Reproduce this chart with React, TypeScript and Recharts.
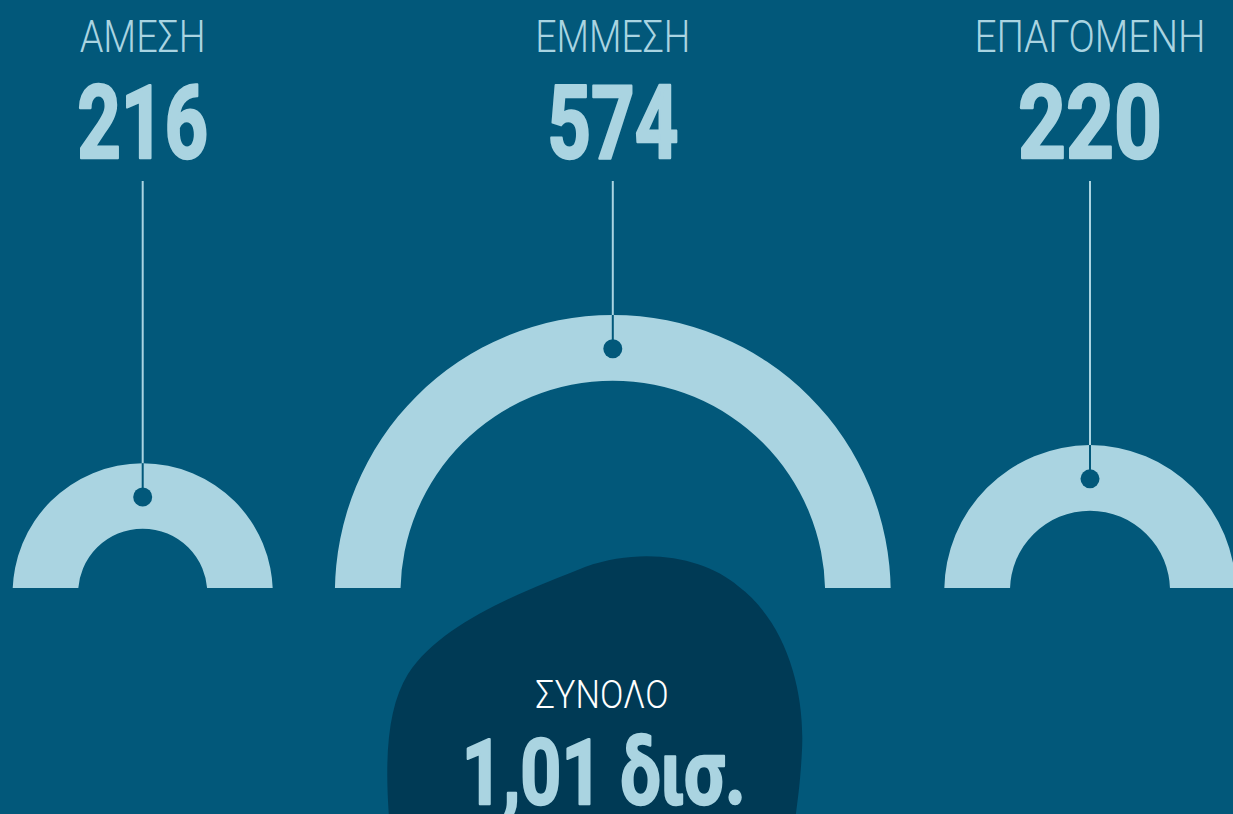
import React from "react";
import { PieChart, Pie } from "recharts";

// ---- data ----
const categories = ["ΑΜΕΣΗ", "ΕΜΜΕΣΗ", "ΕΠΑΓΟΜΕΝΗ"];
const values = [216, 574, 220];
const totalTitle = "ΣΥΝΟΛΟ";
const totalUnit = "δισ.";

// ---- styles / layout ----
const BG = "#02587A";
const LIGHT = "#AAD4E1";
const BLOB = "#003A55";
const W = 1233;
const H = 814;
const CUT = 588;

const rings = [
  { cx: 142.7, cy: 593.3, rIn: 64.6, rOut: 130.1, labelW: 126, valueW: 131 },
  { cx: 612.8, cy: 592.9, rIn: 212.3, rOut: 277.9, labelW: 155, valueW: 131 },
  { cx: 1090, cy: 590.7, rIn: 80, rOut: 145.7, labelW: 231, valueW: 144 },
];

const FONT = "Roboto, 'DejaVu Sans Condensed', sans-serif";

const makeLabel = (i: number) => (props: any) => {
  const { cx, cy, innerRadius, outerRadius, name, value } = props;
  const g = rings[i];
  const top = cy - outerRadius;
  const dotY = cy - (innerRadius + outerRadius) / 2 + 1;
  return (
    <g key={`lab-${i}`}>
      <text
        x={cx}
        y={52}
        textAnchor="middle"
        fontFamily={FONT}
        fontWeight={300}
        fontSize={45}
        fill={LIGHT}
        textLength={g.labelW}
        lengthAdjust="spacingAndGlyphs"
      >
        {name}
      </text>
      <text
        x={cx}
        y={158}
        textAnchor="middle"
        fontFamily={FONT}
        fontWeight={700}
        fontSize={102}
        fill={LIGHT}
        stroke={LIGHT}
        strokeWidth={2.6}
        strokeLinejoin="round"
        textLength={g.valueW}
        lengthAdjust="spacingAndGlyphs"
      >
        {value}
      </text>
      <line x1={cx} x2={cx} y1={181} y2={top} stroke={LIGHT} strokeWidth={2} />
      <line x1={cx} x2={cx} y1={top} y2={dotY} stroke={BG} strokeWidth={2} />
      <circle cx={cx} cy={dotY} r={9.5} fill={BG} />
    </g>
  );
};

export default function App() {
  const total = values.reduce((a, b) => a + b, 0);
  const totalText = `${(total / 1000).toFixed(2).replace(".", ",")} ${totalUnit}`;
  return (
    <div
      style={{
        position: "absolute",
        left: 0,
        top: 0,
        width: W,
        height: H,
        background: BG,
        overflow: "hidden",
      }}
    >
      <svg width={W} height={H} style={{ position: "absolute", left: 0, top: 0 }}>
        <path
          d="M 390 830 C 384 760 387 708 408 674 C 442 622 522 592 585 567 C 645 546 705 558 738 586 C 786 622 805 690 802 750 C 800 790 796 810 794 830 Z"
          fill={BLOB}
        />
        <text
          x={602}
          y={708}
          textAnchor="middle"
          fontFamily={FONT}
          fontWeight={300}
          fontSize={39}
          fill="#FFFFFF"
          textLength={133}
          lengthAdjust="spacingAndGlyphs"
        >
          {totalTitle}
        </text>
        <text
          x={603.7}
          y={804}
          textAnchor="middle"
          fontFamily={FONT}
          fontWeight={700}
          fontSize={91}
          fill={LIGHT}
          stroke={LIGHT}
          strokeWidth={2.4}
          strokeLinejoin="round"
          textLength={284}
          lengthAdjust="spacingAndGlyphs"
        >
          {totalText}
        </text>
      </svg>
      <div
        style={{
          position: "absolute",
          left: 0,
          top: 0,
          width: W,
          height: CUT,
          overflow: "hidden",
        }}
      >
        <PieChart width={W} height={CUT + 40} margin={{ top: 0, right: 0, bottom: 0, left: 0 }}>
          {categories.map((c, i) => (
            <Pie
              key={c}
              data={[{ name: c, value: values[i] }]}
              dataKey="value"
              nameKey="name"
              cx={rings[i].cx}
              cy={rings[i].cy}
              innerRadius={rings[i].rIn}
              outerRadius={rings[i].rOut}
              startAngle={180}
              endAngle={0}
              fill={LIGHT}
              stroke="none"
              isAnimationActive={false}
              label={makeLabel(i)}
              labelLine={false}
            />
          ))}
        </PieChart>
      </div>
    </div>
  );
}
